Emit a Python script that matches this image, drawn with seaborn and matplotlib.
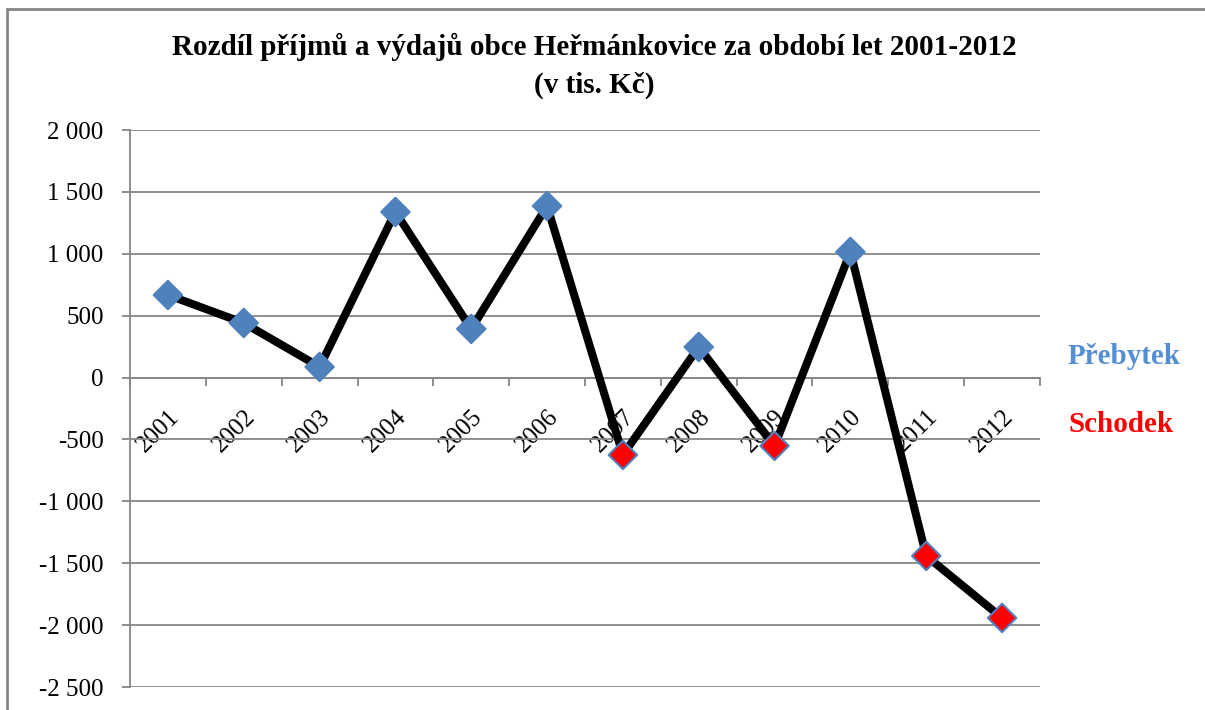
import numpy as np
import pandas as pd
import seaborn as sns
import matplotlib.pyplot as plt
import matplotlib.transforms as mtransforms
from matplotlib.patches import Rectangle
from matplotlib.ticker import FuncFormatter, FixedLocator

years = ["2001", "2002", "2003", "2004", "2005", "2006",
         "2007", "2008", "2009", "2010", "2011", "2012"]
balance = [667, 441, 86, 1338, 393, 1386, -625, 247, -552, 1015, -1441, -1942]

df = pd.DataFrame({"year": years, "balance": balance})
df["pos"] = range(len(df))
df["typ"] = np.where(df["balance"] >= 0, "Přebytek", "Schodek")

sns.set_style("white")
plt.rcParams["font.family"] = ["Liberation Serif", "DejaVu Serif"]
plt.rcParams["text.color"] = "black"
plt.rcParams["xtick.labelcolor"] = "black"
plt.rcParams["ytick.labelcolor"] = "black"

blue = "#4F81BD"
red = "#FF0000"
grid = "#868686"

fig = plt.figure(figsize=(12.05, 7.10), dpi=100)
ax = fig.add_axes([130 / 1205, 1 - 687 / 710, 910 / 1205, 557 / 710])

sns.lineplot(data=df, x="pos", y="balance", color="black", linewidth=5.8,
             ax=ax, zorder=3)
sns.scatterplot(data=df, x="pos", y="balance", hue="typ",
                palette={"Přebytek": blue, "Schodek": red},
                marker="D", s=210, edgecolor=blue, linewidth=1.5,
                legend=False, ax=ax, zorder=4)

ax.set_xlim(-0.5, len(years) - 0.5)
ax.set_ylim(-2500, 2000)
ax.set_yticks(range(-2500, 2001, 500))
ax.yaxis.set_major_formatter(FuncFormatter(lambda v, p: f"{int(v):,}".replace(",", " ")))
ax.grid(axis="y", color=grid, linewidth=1.3)
ax.set_axisbelow(True)

for s in ["top", "right"]:
    ax.spines[s].set_visible(False)
ax.spines["left"].set_color(grid)
ax.spines["left"].set_linewidth(1.3)
ax.spines["bottom"].set_position(("data", 0))
ax.spines["bottom"].set_color(grid)
ax.spines["bottom"].set_linewidth(1.3)

ax.set_xticks(df["pos"])
ax.set_xticklabels(df["year"], rotation=45, ha="right", va="top",
                   rotation_mode="anchor", fontsize=18)
# nudge rotated year labels a little to the left, like Excel does
shift = mtransforms.ScaledTranslation(-5 / 100, 0, fig.dpi_scale_trans)
for lbl in ax.get_xticklabels():
    lbl.set_transform(lbl.get_transform() + shift)
ax.xaxis.set_minor_locator(FixedLocator(np.arange(-0.5, len(years), 1)))
ax.tick_params(axis="x", which="major", length=0, pad=20)
ax.tick_params(axis="x", which="minor", length=6, width=1.3, color=grid,
               direction="out", bottom=True)
ax.tick_params(axis="y", length=6, width=1.3, color=grid, left=True,
               labelsize=18, pad=13)
ax.set_xlabel("")
ax.set_ylabel("")

fig.text(594 / 1205, 1 - 47 / 710,
         "Rozdíl příjmů a výdajů obce Heřmánkovice za období let 2001-2012",
         ha="center", va="center", fontsize=21, fontweight="bold")
fig.text(594 / 1205, 1 - 85 / 710, "(v tis. Kč)",
         ha="center", va="center", fontsize=21, fontweight="bold")

fig.text(1068 / 1205, 1 - 357 / 710, "Přebytek", color="#558ED5",
         ha="left", va="center", fontsize=21, fontweight="bold")
fig.text(1068 / 1205, 1 - 425 / 710, "Schodek", color=red,
         ha="left", va="center", fontsize=21, fontweight="bold")

fig.patches.append(Rectangle((7 / 1205, -0.05), 1.1, 1 - 9 / 710 + 0.05,
                             transform=fig.transFigure, fill=False,
                             edgecolor=grid, linewidth=2, clip_on=False))

fig.savefig("out.png", dpi=100)
